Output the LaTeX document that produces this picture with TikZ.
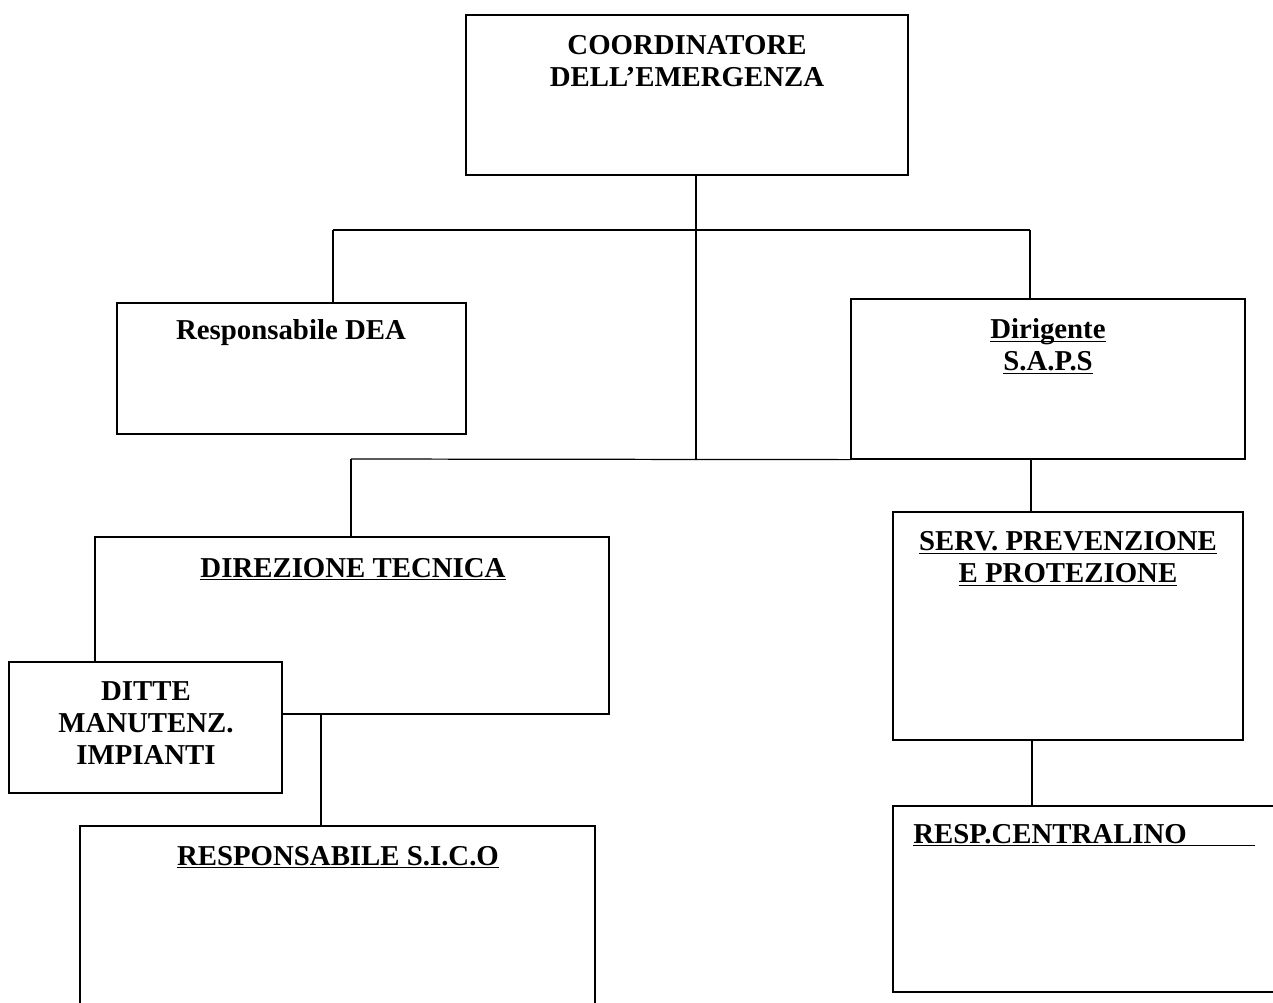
\documentclass[tikz,border=0pt]{standalone}
\usepackage{fontspec}
\setmainfont{Liberation Serif}
\usepackage{tikz}
\usetikzlibrary{fit,calc}
\newcommand{\ulin}[1]{\underline{\smash{#1}}}
\tikzset{
  box/.style={draw,line width=0.7pt,inner sep=0pt,fill=white},
  title/.style={font=\bfseries\fontsize{16.4}{18.2}\selectfont,align=center,inner sep=0pt},
  link/.style={line width=0.7pt}
}

\begin{document}
\begin{tikzpicture}[x=0.02cm,y=-0.02cm]
\clip (0,0) rectangle (1273,1002);
\fill[white] (0,0) rectangle (1273,1002);
% boxes
\node[box,fit={(466,15) (908,175)}] (coord) {};
\node[box,fit={(117,303) (466,434)}] (dea) {};
\node[box,fit={(851,299) (1245,459)}] (saps) {};
\node[box,fit={(95,537) (609,714)}] (dtec) {};
\node[box,fit={(9,662) (282,793)}] (ditte) {};
\node[box,fit={(893,512) (1243,740)}] (spp) {};
\node[box,fit={(893,806) (1300,992)}] (centr) {};
\node[box,fit={(80,826) (595,1020)}] (sico) {};
% titles
\node[title] (t-coord) at (687,61) {COORDINATORE\\DELL'EMERGENZA};
\node[title] (t-dea) at (291,333) {Responsabile DEA};
\node[title] (t-saps) at (1048,356.5) {\ulin{Dirigente}\\\ulin{S.A.P.S}};
\node[title] (t-dtec) at (353,579) {\ulin{DIREZIONE TECNICA}};
\node[title] (t-ditte) at (146,723) {DITTE\\MANUTENZ.\\IMPIANTI};
\node[title] (t-spp) at (1068,568.5) {\ulin{SERV. PREVENZIONE}\\\ulin{E PROTEZIONE}};
\node[title,anchor=west] (t-centr) at (913,845) {\ulin{RESP.CENTRALINO\hspace{39pt}}};
\node[title] (t-sico) at (338,867) {\ulin{RESPONSABILE S.I.C.O}};
% connectors
\coordinate (bus1) at (696,230);
\coordinate (bus2) at (696,459);
\coordinate (b1l) at (333,230);
\coordinate (b1r) at (1030,230);
\coordinate (b2l) at (351,459);
\draw[link] ($(coord.south)+(9,0)$) -- (bus2);
\draw[link] (b1l) -- (b1r);
\draw[link] (b1l) -- (b1l |- dea.north);
\draw[link] (b1r) -- (b1r |- saps.north);
\draw[link] (b2l) -- (saps.south west);
\draw[link] (b2l) -- (b2l |- dtec.north);
\draw[link] ($(saps.south)+(-17,0)$) -- ($(spp.north)+(-37,0)$);
\draw[link] ($(spp.south)+(-36,0)$) -- (spp.south -| 1032,0) -- (1032,806);
\draw[link] ($(dtec.south)+(-31,0)$) -- ($(sico.north)+(-16.5,0)$);
\end{tikzpicture}
\end{document}
